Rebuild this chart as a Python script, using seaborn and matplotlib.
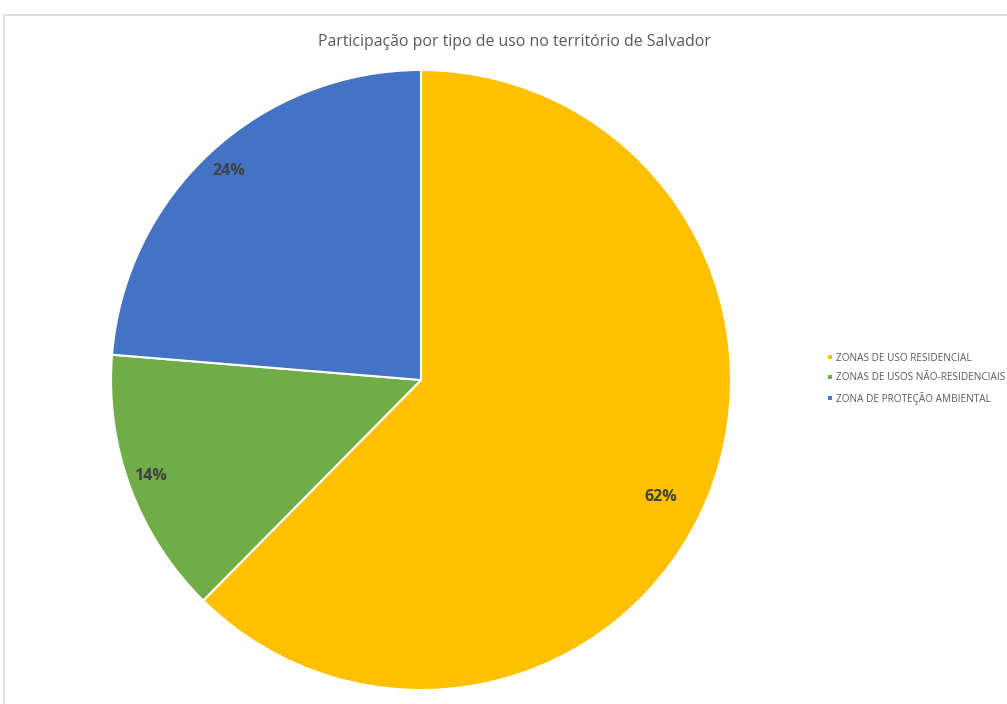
import matplotlib
matplotlib.use("Agg")
import matplotlib.pyplot as plt
import seaborn as sns
from matplotlib.patches import Rectangle
import numpy as np

sns.set_theme(style="white")
plt.rcParams['font.family'] = ['Open Sans', 'DejaVu Sans']

title = "Participação por tipo de uso no território de Salvador"
categories = ["ZONAS DE USO RESIDENCIAL", "ZONAS DE USOS NÃO-RESIDENCIAIS", "ZONA DE PROTEÇÃO AMBIENTAL"]
values = [62.4, 13.9, 23.7]
colors = ["#FFC000", "#70AD47", "#4472C4"]

fig = plt.figure(figsize=(10.07, 7.04), dpi=100)
fig.patch.set_facecolor("white")
fig.patches.append(Rectangle((4/1007, -0.1), 1.2, (704-15)/704 + 0.1, transform=fig.transFigure,
                             fill=False, edgecolor="#d9d9d9", linewidth=1.2))

ax = fig.add_axes([111/1007, 14/704, 620/1007, 620/704])
wedges, texts, autotexts = ax.pie(values, colors=colors, startangle=90, counterclock=False,
                                  autopct='%.0f%%', pctdistance=0.9,
                                  wedgeprops=dict(edgecolor="white", linewidth=1.5),
                                  textprops=dict(color="#404040", fontsize=11.5, fontweight="bold"))
# Excel-style label placement (radius fraction, angle in degrees)
label_pos = [(0.86, -26.0), (0.925, 199.6), (0.915, 132.6)]
for t, (r, a) in zip(autotexts, label_pos):
    t.set_position((r*np.cos(np.radians(a)), r*np.sin(np.radians(a))))
ax.set_xlim(-1, 1)
ax.set_ylim(-1, 1)
ax.set_aspect("equal")
ax.axis("off")

fig.text(514/1007, 1 - 42/704, title, ha="center", va="center", fontsize=11.4, color="#595959")

leg = fig.legend(wedges, categories, loc="upper left", bbox_to_anchor=(827/1007, 1 - 353/704),
                 frameon=False, fontsize=7.2, handlelength=0.55, handleheight=0.55,
                 handletextpad=0.35, labelspacing=0.85, borderpad=0, borderaxespad=0)
for t in leg.get_texts():
    t.set_color("#595959")

fig.savefig("out.png", dpi=100)
